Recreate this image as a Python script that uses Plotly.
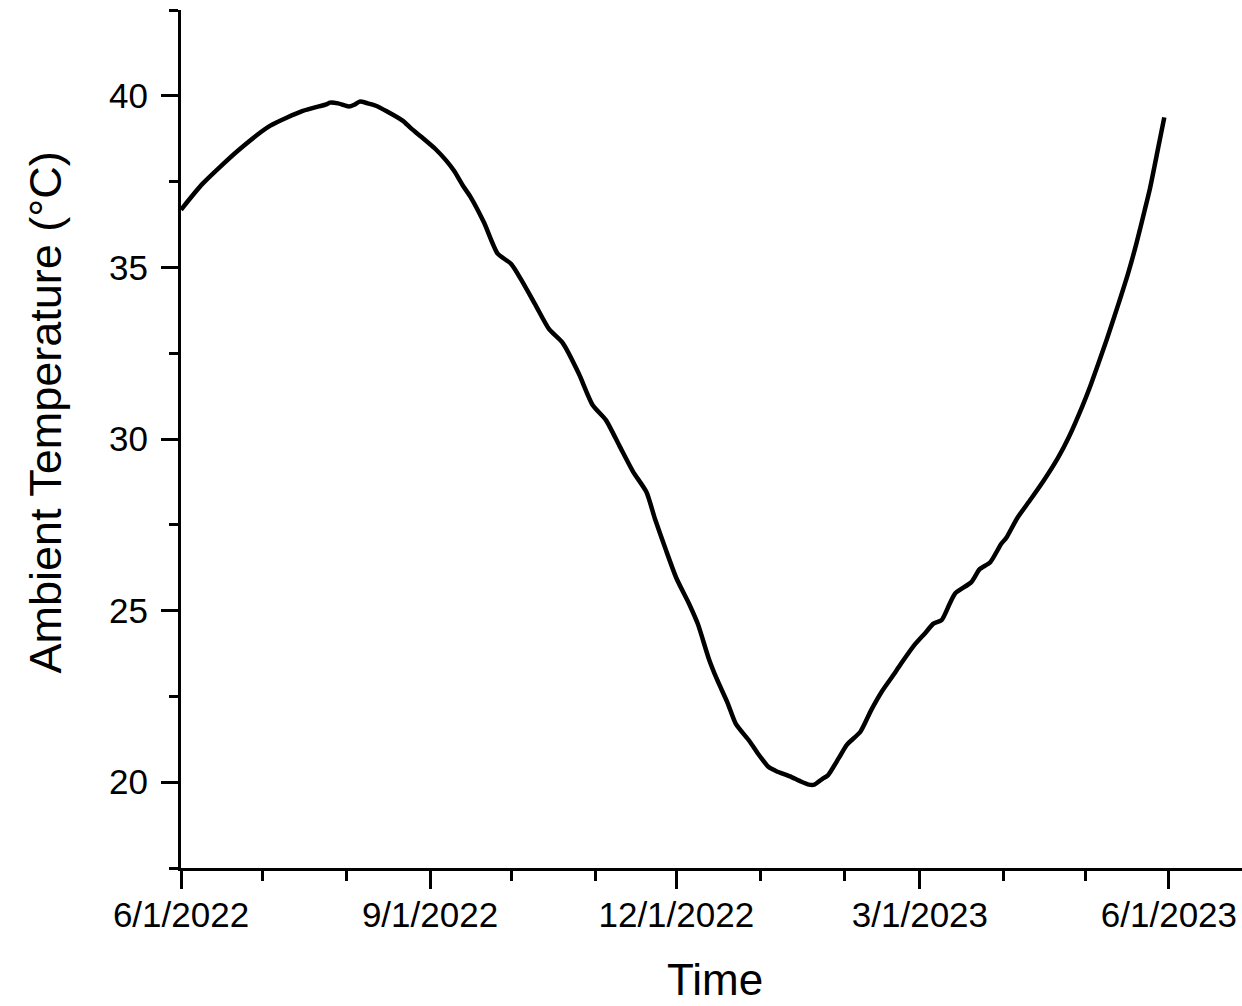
import plotly.graph_objects as go

dates = [
    "2022-06-01", "2022-06-09", "2022-06-22", "2022-07-04", "2022-07-16", "2022-07-25",
    "2022-07-26", "2022-07-29", "2022-08-02", "2022-08-04", "2022-08-06", "2022-08-09",
    "2022-08-12", "2022-08-16", "2022-08-22", "2022-08-25", "2022-08-29", "2022-09-03",
    "2022-09-07", "2022-09-10", "2022-09-13", "2022-09-16", "2022-09-21", "2022-09-26",
    "2022-10-01", "2022-10-05", "2022-10-10", "2022-10-15", "2022-10-20", "2022-10-26",
    "2022-10-31", "2022-11-05", "2022-11-10", "2022-11-15", "2022-11-20", "2022-11-23",
    "2022-11-27", "2022-12-01", "2022-12-06", "2022-12-09", "2022-12-13", "2022-12-16",
    "2022-12-20", "2022-12-23", "2022-12-28", "2022-12-31", "2023-01-04", "2023-01-07",
    "2023-01-12", "2023-01-16", "2023-01-19", "2023-01-21", "2023-01-24", "2023-01-26",
    "2023-01-30", "2023-02-02", "2023-02-07", "2023-02-11", "2023-02-15", "2023-02-19",
    "2023-02-22", "2023-02-27", "2023-03-03", "2023-03-06", "2023-03-09", "2023-03-12",
    "2023-03-14", "2023-03-20", "2023-03-23", "2023-03-27", "2023-03-31", "2023-04-02",
    "2023-04-06", "2023-04-11", "2023-04-16", "2023-04-21", "2023-04-25", "2023-04-30",
    "2023-05-03", "2023-05-09", "2023-05-13", "2023-05-17", "2023-05-20", "2023-05-23",
    "2023-05-25", "2023-05-28", "2023-05-30 07:00",
]

temps = [
    36.68, 37.44, 38.40, 39.13, 39.56, 39.76,
    39.80, 39.78, 39.69, 39.74, 39.83, 39.78,
    39.71, 39.55, 39.27, 39.05, 38.79, 38.45,
    38.11, 37.80, 37.40, 37.05, 36.30, 35.40,
    35.10, 34.60, 33.90, 33.20, 32.80, 31.90,
    31.00, 30.55, 29.80, 29.05, 28.45, 27.70,
    26.80, 25.95, 25.15, 24.60, 23.60, 23.00,
    22.30, 21.70, 21.20, 20.85, 20.45, 20.32,
    20.17, 20.02, 19.93, 19.93, 20.10, 20.20,
    20.70, 21.09, 21.47, 22.10, 22.65, 23.10,
    23.45, 24.00, 24.35, 24.62, 24.72, 25.20,
    25.50, 25.83, 26.20, 26.41, 26.94, 27.13,
    27.70, 28.25, 28.82, 29.45, 30.05, 30.95,
    31.55, 32.89, 33.85, 34.85, 35.70, 36.65,
    37.30, 38.47, 39.37,
]

x_range = ["2022-06-01", "2023-06-28"]
y_range = [17.5, 42.5]

FONT = "Liberation Sans, Arial, sans-serif"

fig = go.Figure()
fig.add_trace(go.Scatter(
    x=dates, y=temps, mode="lines",
    line=dict(color="black", width=4.5, shape="spline", smoothing=0.6),
    showlegend=False,
))

fig.update_layout(
    width=1242, height=1006,
    margin=dict(l=181, r=0, t=10, b=138),
    paper_bgcolor="white", plot_bgcolor="white",
    font=dict(family=FONT, color="black"),
    annotations=[
        dict(text="Time", xref="paper", yref="paper", x=0.503, y=-0.1305,
             xanchor="center", yanchor="middle", showarrow=False,
             font=dict(size=44, family=FONT, color="black")),
        dict(text="Ambient Temperature (°C)", xref="paper", yref="paper",
             x=-0.128, y=0.531, xanchor="center", yanchor="middle",
             textangle=-90, showarrow=False,
             font=dict(size=45, family=FONT, color="black")),
    ],
)

fig.update_xaxes(
    type="date", range=x_range, automargin=False,
    tick0="2022-06-01", dtick="M3", tickformat="%-m/%-d/%Y",
    ticks="outside", ticklen=18, tickwidth=3, tickcolor="black",
    minor=dict(dtick="M1", ticks="outside", ticklen=10, tickwidth=3, tickcolor="black"),
    showline=True, linewidth=3, linecolor="black",
    showgrid=False, zeroline=False,
    tickfont=dict(size=35, family=FONT),
    ticklabelstandoff=-4,
)

fig.update_yaxes(
    range=y_range, tick0=0, dtick=5, automargin=False,
    ticks="outside", ticklen=17, tickwidth=3, tickcolor="black",
    minor=dict(dtick=2.5, ticks="outside", ticklen=9, tickwidth=3, tickcolor="black"),
    showline=True, linewidth=3, linecolor="black",
    showgrid=False, zeroline=False,
    tickfont=dict(size=35, family=FONT),
    ticklabelstandoff=6,
)

fig.write_html("out.html", config={"displayModeBar": False},
               post_script="document.body.style.margin='0';")
